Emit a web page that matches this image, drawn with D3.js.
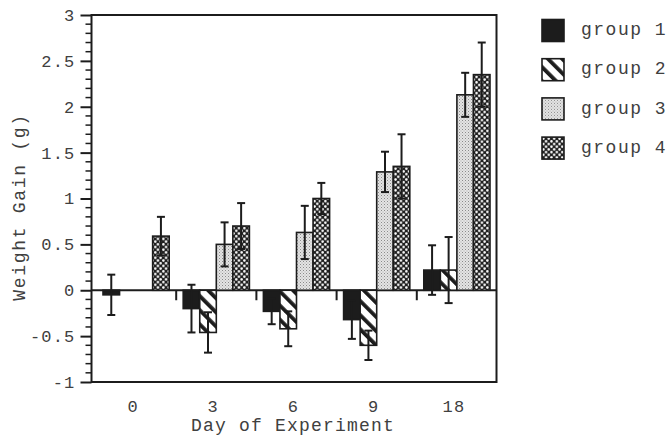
<!DOCTYPE html>
<html>
<head>
<meta charset="utf-8">
<script src="https://cdn.jsdelivr.net/npm/d3@7"></script>
<style>
  html, body { margin: 0; padding: 0; background: #fff; }
  svg { display: block; }
  text { font-family: "Courier New", "Liberation Mono", "DejaVu Sans Mono", monospace; fill: #404040; }
</style>
</head>
<body>
<svg id="chart" width="667" height="436"></svg>
<script>
// Day of experiment (categories) and the four groups
const days = ["0", "3", "6", "9", "18"];
const groups = ["group 1", "group 2", "group 3", "group 4"];

// Mean weight gain (g) per day, one array per group (null = not measured)
const group1 = [-0.05, -0.20, -0.23, -0.32, 0.22];
const group2 = [null, -0.46, -0.42, -0.60, 0.22];
const group3 = [null, 0.50, 0.63, 1.29, 2.13];
const group4 = [0.59, 0.70, 1.00, 1.35, 2.35];

// Error bar half-lengths
const err1 = [0.22, 0.26, 0.14, 0.21, 0.27];
const err2 = [null, 0.22, 0.19, 0.16, 0.36];
const err3 = [null, 0.24, 0.29, 0.22, 0.24];
const err4 = [0.21, 0.25, 0.17, 0.35, 0.35];

const yTicks = [-1, -0.5, 0, 0.5, 1, 1.5, 2, 2.5, 3];

const values = [group1, group2, group3, group4];
const errors = [err1, err2, err3, err4];

const svg = d3.select("#chart");
const ink = "#1c1c1c";

// Fill patterns for the four groups
const defs = svg.append("defs");
const stripes = defs.append("pattern").attr("id", "p2")
  .attr("patternUnits", "userSpaceOnUse").attr("width", 10).attr("height", 10)
  .attr("patternTransform", "rotate(-45)");
stripes.append("rect").attr("width", 10).attr("height", 10).attr("fill", "#fff");
stripes.append("rect").attr("x", 0).attr("width", 3.8).attr("height", 10).attr("fill", ink);

const stipple = defs.append("pattern").attr("id", "p3")
  .attr("patternUnits", "userSpaceOnUse").attr("width", 3).attr("height", 3);
stipple.append("rect").attr("width", 3).attr("height", 3).attr("fill", "#e4e4e4");
stipple.append("rect").attr("x", 0).attr("y", 0).attr("width", 1).attr("height", 1).attr("fill", "#8a8a8a");
stipple.append("rect").attr("x", 1.5).attr("y", 1.5).attr("width", 1).attr("height", 1).attr("fill", "#a8a8a8");

const mesh = defs.append("pattern").attr("id", "p4")
  .attr("patternUnits", "userSpaceOnUse").attr("width", 5.4).attr("height", 5.4);
mesh.append("rect").attr("width", 5.4).attr("height", 5.4).attr("fill", "#202020");
mesh.append("circle").attr("cx", 1.35).attr("cy", 1.35).attr("r", 1.25).attr("fill", "#fff");
mesh.append("circle").attr("cx", 4.05).attr("cy", 4.05).attr("r", 1.25).attr("fill", "#fff");

const fills = [ink, "url(#p2)", "url(#p3)", "url(#p4)"];

// Scales
const frame = { left: 91.5, right: 496.5, top: 15, bottom: 382 };
const y = d3.scaleLinear().domain([-1, 3]).range([frame.bottom, frame.top]);
const x0 = d3.scaleBand().domain(days).range([96, 497]).paddingInner(0).paddingOuter(0);
const x1 = d3.scaleBand().domain(groups).range([7, x0.bandwidth() - 7]).padding(0);

// Frame
svg.append("rect")
  .attr("x", frame.left).attr("y", frame.top)
  .attr("width", frame.right - frame.left).attr("height", frame.bottom - frame.top)
  .attr("fill", "none").attr("stroke", ink).attr("stroke-width", 2);

// Left axis: major ticks every 0.5, minor every 0.1
const minor = d3.range(-10, 31).map(d => d / 10).filter(d => !yTicks.some(t => Math.abs(t - d) < 1e-9));
const yAxis = svg.append("g").attr("transform", `translate(${frame.left},0)`);
yAxis.selectAll("line.minor").data(minor).join("line")
  .attr("x1", -6).attr("x2", 0)
  .attr("y1", d => y(d)).attr("y2", d => y(d))
  .attr("stroke", ink).attr("stroke-width", 1.5);
yAxis.call(d3.axisLeft(y).tickValues(yTicks).tickSize(11).tickPadding(5).tickFormat(d => String(d)));
yAxis.select(".domain").remove();
yAxis.selectAll(".tick line").attr("stroke", ink).attr("stroke-width", 2);
yAxis.selectAll(".tick text")
  .attr("font-size", 17).attr("letter-spacing", 1.2)
  .attr("font-family", null).attr("fill", "#404040");

// Zero line and category ticks
svg.append("line")
  .attr("x1", frame.left).attr("x2", frame.right)
  .attr("y1", y(0)).attr("y2", y(0))
  .attr("stroke", ink).attr("stroke-width", 2);
svg.selectAll("line.sep").data(days.slice(1)).join("line")
  .attr("class", "sep")
  .attr("x1", d => x0(d)).attr("x2", d => x0(d))
  .attr("y1", y(0)).attr("y2", y(0) + 10)
  .attr("stroke", ink).attr("stroke-width", 2);

// Bars
const rows = [];
days.forEach((d, i) => groups.forEach((g, j) => {
  if (values[j][i] !== null) rows.push({ day: d, group: g, gi: j, v: values[j][i], e: errors[j][i] });
}));

svg.append("g").selectAll("rect").data(rows).join("rect")
  .attr("x", r => x0(r.day) + x1(r.group))
  .attr("width", x1.bandwidth())
  .attr("y", r => y(Math.max(0, r.v)))
  .attr("height", r => Math.abs(y(r.v) - y(0)))
  .attr("fill", r => fills[r.gi])
  .attr("stroke", ink).attr("stroke-width", 1.6);

// Error bars
const eb = svg.append("g").selectAll("g").data(rows).join("g")
  .attr("transform", r => `translate(${x0(r.day) + x1(r.group) + x1.bandwidth() / 2},0)`)
  .attr("stroke", ink).attr("stroke-width", 2);
eb.append("line").attr("y1", r => y(r.v - r.e)).attr("y2", r => y(r.v + r.e));
eb.append("line").attr("x1", -4).attr("x2", 4).attr("y1", r => y(r.v + r.e)).attr("y2", r => y(r.v + r.e));
eb.append("line").attr("x1", -4).attr("x2", 4).attr("y1", r => y(r.v - r.e)).attr("y2", r => y(r.v - r.e));

// Category labels and axis titles
svg.append("g").selectAll("text").data(days).join("text")
  .attr("x", d => x0(d) + x0.bandwidth() / 2 - 3)
  .attr("y", 408)
  .attr("text-anchor", "middle").attr("dominant-baseline", "middle")
  .attr("font-size", 17).attr("letter-spacing", 1.2)
  .text(d => d);

svg.append("text")
  .attr("x", 293).attr("y", 426)
  .attr("text-anchor", "middle").attr("dominant-baseline", "middle")
  .attr("font-size", 18).attr("letter-spacing", 1.2)
  .text("Day of Experiment");

svg.append("text")
  .attr("transform", "translate(20,207) rotate(-90)")
  .attr("text-anchor", "middle").attr("dominant-baseline", "middle")
  .attr("font-size", 18).attr("letter-spacing", 1.7)
  .text("Weight Gain (g)");

// Legend
const legend = svg.append("g").selectAll("g").data(groups).join("g")
  .attr("transform", (g, i) => `translate(542,${30.5 + i * 39.2})`);
legend.append("rect")
  .attr("x", 0).attr("y", -11).attr("width", 22).attr("height", 22)
  .attr("fill", (g, i) => fills[i])
  .attr("stroke", ink).attr("stroke-width", 1.6);
legend.append("text")
  .attr("x", 39).attr("y", 0)
  .attr("dominant-baseline", "middle")
  .attr("font-size", 18).attr("letter-spacing", 1.5)
  .text(g => g);
</script>
</body>
</html>
